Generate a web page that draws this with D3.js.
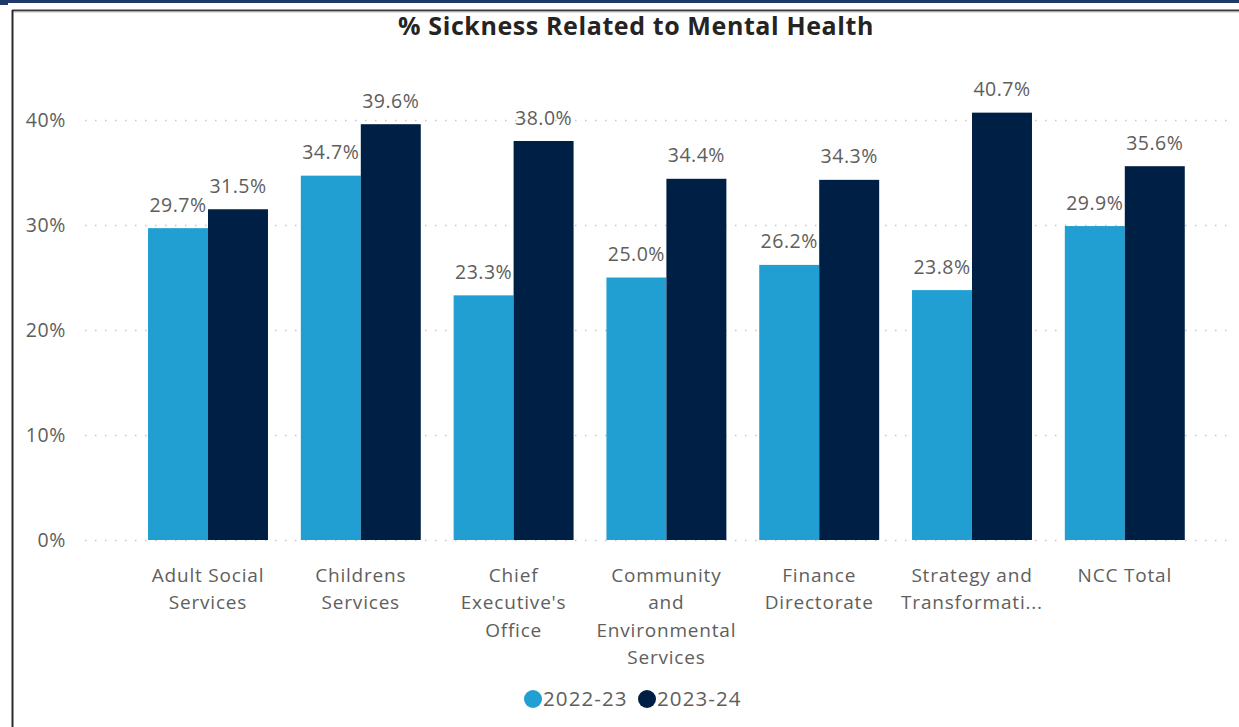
<!DOCTYPE html>
<html>
<head>
<meta charset="utf-8">
<script src="https://cdn.jsdelivr.net/npm/d3@7"></script>
<style>
  html, body { margin: 0; padding: 0; background: #fff; }
  svg { display: block; }
  text { font-family: "Open Sans", "Noto Sans", sans-serif; }
</style>
</head>
<body>
<svg id="chart" width="1239" height="727"></svg>
<script>
// Chart data
const categories = [
  "Adult Social Services",
  "Childrens Services",
  "Chief Executive's Office",
  "Community and Environmental Services",
  "Finance Directorate",
  "Strategy and Transformation",
  "NCC Total"
];
// Axis label lines as shown under each group
const categoryLabelLines = [
  ["Adult Social", "Services"],
  ["Childrens", "Services"],
  ["Chief", "Executive's", "Office"],
  ["Community", "and", "Environmental", "Services"],
  ["Finance", "Directorate"],
  ["Strategy and", "Transformati..."],
  ["NCC Total"]
];
const seriesNames = ["2022-23", "2023-24"];
const values2022 = [29.7, 34.7, 23.3, 25.0, 26.2, 23.8, 29.9];
const values2023 = [31.5, 39.6, 38.0, 34.4, 34.3, 40.7, 35.6];
const yTicks = [0, 10, 20, 30, 40];
const seriesColors = ["#219fd3", "#001f45"];

const title = "% Sickness Related to Mental Health";
const textGray = "#605e5c";

const svg = d3.select("#chart");
const W = 1239, H = 727;

// Page frame: navy band at top, dark border of the visual
svg.append("rect").attr("x", 0).attr("y", 0).attr("width", W).attr("height", 3).attr("fill", "#1f3a68");
svg.append("rect").attr("x", 0).attr("y", 0).attr("width", 8).attr("height", 5).attr("fill", "#1f3a68");
svg.append("line").attr("x1", 12).attr("x2", W).attr("y1", 10.5).attr("y2", 10.5)
  .attr("stroke", "#3a3a3a").attr("stroke-width", 2);
svg.append("line").attr("x1", 12).attr("x2", W).attr("y1", 12).attr("y2", 12)
  .attr("stroke", "#bdbdbd").attr("stroke-width", 1);
svg.append("line").attr("x1", 12.5).attr("x2", 12.5).attr("y1", 10).attr("y2", H)
  .attr("stroke", "#2a2a2a").attr("stroke-width", 2);

// Title
svg.append("text")
  .attr("x", 636).attr("y", 35)
  .attr("text-anchor", "middle")
  .attr("font-size", 25).attr("font-weight", 700)
  .attr("letter-spacing", 0.6)
  .attr("fill", "#252423")
  .text(title);

// Scales
const y = d3.scaleLinear().domain([0, 40]).range([540, 120]);
const x0 = d3.scaleBand().domain(categories).range([131.6, 1201.2])
  .paddingInner(0.215).paddingOuter(0.1075);
const x1 = d3.scaleBand().domain(seriesNames).range([0, x0.bandwidth()]);

// Gridlines
const grid = svg.append("g");
grid.selectAll("line").data(yTicks).join("line")
  .attr("x1", 85).attr("x2", 1234)
  .attr("y1", d => y(d) + 0.5).attr("y2", d => y(d) + 0.5)
  .attr("stroke", "#c8c6c4").attr("stroke-width", 1.3)
  .attr("stroke-dasharray", "1.5,8.5");

// Y axis labels
const yAxis = d3.axisLeft(y).tickValues(yTicks).tickFormat(d => d + "%").tickSize(0).tickPadding(0);
const yg = svg.append("g").attr("transform", "translate(66,0)").call(yAxis);
yg.select(".domain").remove();
yg.selectAll("text").attr("font-size", 19.5).attr("fill", textGray)
  .attr("letter-spacing", 0.6)
  .attr("font-family", "'Open Sans', sans-serif");

// Bars
const rows = categories.map((c, i) => ({ cat: c, vals: [values2022[i], values2023[i]] }));
const groups = svg.append("g").selectAll("g").data(rows).join("g")
  .attr("transform", d => `translate(${x0(d.cat)},0)`);

groups.selectAll("rect").data(d => d.vals.map((v, k) => ({ v, k }))).join("rect")
  .attr("x", d => x1(seriesNames[d.k]))
  .attr("width", x1.bandwidth())
  .attr("y", d => y(d.v))
  .attr("height", d => y(0) - y(d.v))
  .attr("fill", d => seriesColors[d.k]);

// Value labels
groups.selectAll("text.val").data(d => d.vals.map((v, k) => ({ v, k }))).join("text")
  .attr("class", "val")
  .attr("x", d => x1(seriesNames[d.k]) + x1.bandwidth() / 2)
  .attr("y", d => y(d.v) - 16.5)
  .attr("text-anchor", "middle")
  .attr("font-size", 19.5)
  .attr("letter-spacing", 0.5)
  .attr("fill", textGray)
  .text(d => d.v.toFixed(1) + "%");

// Category labels
const xl = svg.append("g");
categories.forEach((c, i) => {
  const t = xl.append("text")
    .attr("x", x0(c) + x0.bandwidth() / 2)
    .attr("y", 582)
    .attr("text-anchor", "middle")
    .attr("font-size", 19)
    .attr("letter-spacing", 0.8)
    .attr("fill", textGray);
  categoryLabelLines[i].forEach((ln, j) => {
    t.append("tspan").attr("x", x0(c) + x0.bandwidth() / 2).attr("dy", j === 0 ? 0 : 27.4).text(ln);
  });
});

// Legend
const legendItems = [
  { name: seriesNames[0], cx: 533, color: seriesColors[0] },
  { name: seriesNames[1], cx: 647, color: seriesColors[1] }
];
const lg = svg.append("g");
legendItems.forEach(it => {
  lg.append("circle").attr("cx", it.cx).attr("cy", 699).attr("r", 9).attr("fill", it.color);
  lg.append("text").attr("x", it.cx + 10).attr("y", 706)
    .attr("font-size", 20.5).attr("letter-spacing", 1.1)
    .attr("fill", textGray).text(it.name);
});
</script>
</body>
</html>
